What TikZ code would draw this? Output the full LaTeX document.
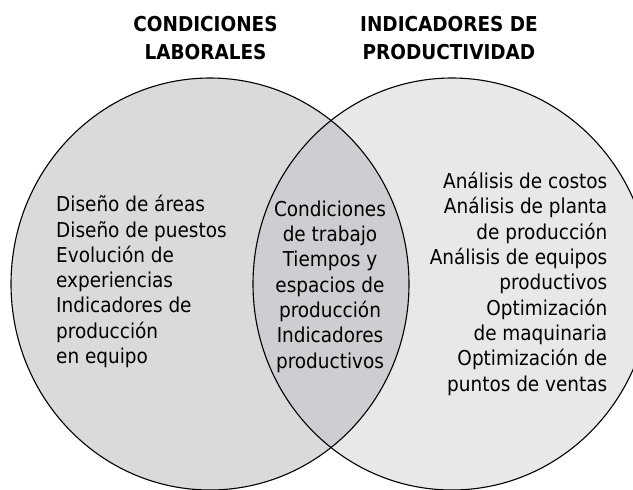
\documentclass[tikz,border=0pt]{standalone}
\usepackage{fontspec}
\setmainfont{DejaVu Sans Condensed}
\definecolor{leftfill}{RGB}{217,218,220}
\definecolor{rightfill}{RGB}{232,232,232}
\definecolor{midfill}{RGB}{205,206,209}
\tikzset{
  body/.style={inner sep=0pt, font=\fontsize{20.5}{25.3}\selectfont},
  title/.style={inner sep=0pt, align=center, font=\fontsize{20.5}{27.6}\selectfont\bfseries},
  outline/.style={draw=black, line width=1.1pt}
}
\begin{document}
\begin{tikzpicture}[x=1pt,y=-1pt]
\clip (0,0) rectangle (633,490);
\fill[white] (0,0) rectangle (633,490);
\def\leftset{(210,284) ellipse [x radius=199pt, y radius=206pt]}
\def\rightset{(452,284) ellipse [x radius=199pt, y radius=206pt]}
\fill[leftfill] \leftset;
\fill[rightfill] \rightset;
\begin{scope}
  \clip \leftset;
  \fill[midfill] \rightset;
\end{scope}
\draw[outline] \leftset;
\draw[outline] \rightset;
% anchor=base sits on the last line's baseline
\node[title, anchor=base] (tl) at (205.5,59.3) {CONDICIONES\\LABORALES};
\node[title, anchor=base] (tr) at (449,59.3) {INDICADORES DE\\PRODUCTIVIDAD};
\node[body, align=left, anchor=base west] (bl) at (56,363.5)
  {Diseño de áreas\\Diseño de puestos\\Evolución de\\experiencias\\Indicadores de\\producción\\en equipo};
\node[body, align=center, anchor=base] (bm) at (330,368)
  {Condiciones\\de trabajo\\Tiempos y\\espacios de\\producción\\Indicadores\\productivos};
\node[body, align=right, anchor=base east] (br) at (607.5,391)
  {Análisis de costos\\Análisis de planta\\de producción\\Análisis de equipos\\productivos\\Optimización\\de maquinaria\\Optimización de\\puntos de ventas};
\end{tikzpicture}
\end{document}
